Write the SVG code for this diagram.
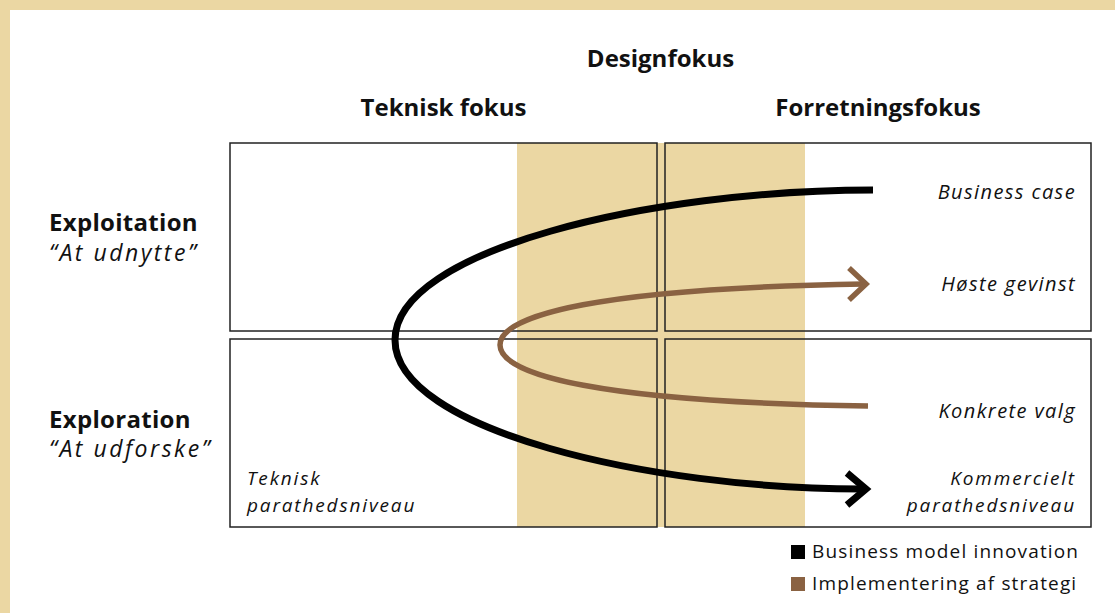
<svg xmlns="http://www.w3.org/2000/svg" width="1115" height="613" viewBox="0 0 1115 613">
<style>
.bg{fill:#EBD7A3}
.panel{fill:#ffffff}
.band{fill:#EBD7A3}
.box{fill:none;stroke:#222;stroke-width:1.5}
.h{font-family:"Open Sans","Liberation Sans",sans-serif;font-weight:700;font-size:24px;fill:#111}
.hl{letter-spacing:0.3px}
.hi{font-family:"Open Sans","Liberation Sans",sans-serif;font-style:italic;font-size:23px;letter-spacing:2.5px;fill:#111}
.lab{font-family:"Open Sans","Liberation Sans",sans-serif;font-style:italic;font-size:20px;letter-spacing:1.4px;fill:#111}
.lab2{font-family:"Open Sans","Liberation Sans",sans-serif;font-style:italic;font-size:19px;letter-spacing:1.85px;fill:#111}
.leg{font-family:"Open Sans","Liberation Sans",sans-serif;font-size:19px;letter-spacing:1.15px;fill:#111}
.blk{fill:none;stroke:#000;stroke-width:7}
.brn{fill:none;stroke:#8A6242;stroke-width:5.5}
</style>
<rect class="bg" x="0" y="0" width="1115" height="613"/>
<rect class="panel" x="10" y="10" width="1105" height="603"/>
<text class="h" x="660.5" y="67" text-anchor="middle">Designfokus</text>
<text class="h" x="443.5" y="116" text-anchor="middle">Teknisk fokus</text>
<text class="h" x="878" y="116" text-anchor="middle">Forretningsfokus</text>
<g id="band"><rect class="band" x="517" y="143" width="288" height="384"/></g>
<g id="row-exploitation">
<text class="h hl" x="49" y="231">Exploitation</text>
<text class="hi" x="49" y="261">“At udnytte”</text>
</g>
<g id="row-exploration">
<text class="h hl" x="49" y="428">Exploration</text>
<text class="hi" x="49" y="457">“At udforske”</text>
</g>
<g id="box-tl"><rect class="box" x="230" y="143" width="427" height="188"/></g>
<g id="box-tr"><rect class="box" x="665" y="143" width="426" height="188"/>
<text class="lab" x="1076" y="199" text-anchor="end">Business case</text>
<text class="lab" x="1076" y="291" text-anchor="end">Høste gevinst</text>
</g>
<g id="box-bl"><rect class="box" x="230" y="339" width="427" height="188"/>
<text class="lab2" x="247" y="485">Teknisk</text>
<text class="lab2" x="247" y="512">parathedsniveau</text>
</g>
<g id="box-br"><rect class="box" x="665" y="339" width="426" height="188"/>
<text class="lab" x="1076" y="418" text-anchor="end">Konkrete valg</text>
<text class="lab2" x="1076" y="485" text-anchor="end">Kommercielt</text>
<text class="lab2" x="1076" y="512" text-anchor="end">parathedsniveau</text>
</g>
<g id="connectors">
<path class="blk" d="M873,190 C650,190 395,250 395,340 C395,430 650,489 862,489"/>
<polyline class="blk" points="847,473 866,489 847,505" stroke-linejoin="miter"/>
<path class="brn" d="M868,406 C600,402 500,375 500,345 C500,315 600,288 864,284"/>
<polyline class="brn" points="849,268 866,284 849,300" stroke-linejoin="miter"/>
</g>
<g id="legend">
<rect x="791" y="545" width="14" height="14" fill="#000"/>
<text class="leg" x="812" y="558">Business model innovation</text>
<rect x="791" y="577" width="14" height="14" fill="#8A6242"/>
<text class="leg" x="812" y="590">Implementering af strategi</text>
</g>
</svg>
